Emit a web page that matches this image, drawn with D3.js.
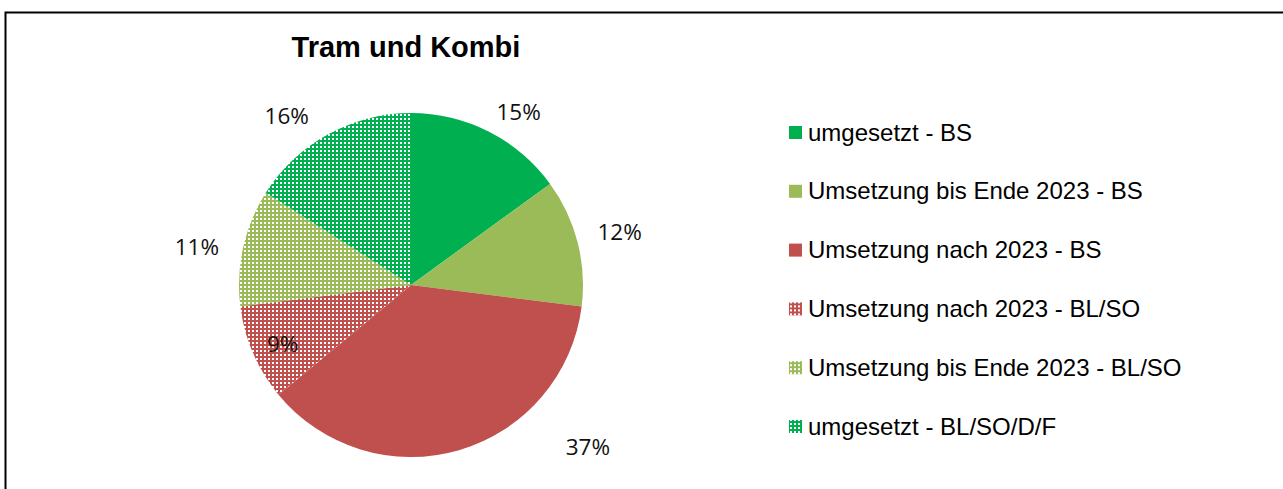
<!DOCTYPE html>
<html>
<head>
<meta charset="utf-8">
<script src="https://cdn.jsdelivr.net/npm/d3@7"></script>
<style>
  body { margin: 0; background: #fff; }
  svg { display: block; }
</style>
</head>
<body>
<svg id="chart" width="1283" height="489"></svg>
<script>
// slice data, clockwise from 12 o'clock
var categories = [
    "umgesetzt - BS",
    "Umsetzung bis Ende 2023 - BS",
    "Umsetzung nach 2023 - BS",
    "Umsetzung nach 2023 - BL/SO",
    "Umsetzung bis Ende 2023 - BL/SO",
    "umgesetzt - BL/SO/D/F"
];
var shares = [15, 12, 37, 9, 11, 16];
var percentLabels = ["15%", "12%", "37%", "9%", "11%", "16%"];

var baseColors = ["#00B050", "#9BBB59", "#C0504D", "#C0504D", "#9BBB59", "#00B050"];
var patterned = [false, false, false, true, true, true];
// hand placement of the data labels (excel "best fit"), offset from the default spot
var labelNudge = [[15, 9], [11, -2], [120, -34], [-10, 8], [-15, 6], [-26, 10]];

var width = 1283, height = 489;
var cx = 411, cy = 285, radius = 172;

var svg = d3.select("#chart");
var defs = svg.append("defs");

// small white dot grid for the BL/SO slices
baseColors.forEach(function (c, i) {
    if (!patterned[i]) return;
    var p = defs.append("pattern")
        .attr("id", "pat" + i)
        .attr("patternUnits", "userSpaceOnUse")
        .attr("width", 4).attr("height", 4);
    p.append("rect").attr("width", 4).attr("height", 4).attr("fill", c);
    p.append("rect").attr("x", 1).attr("y", 1).attr("width", 2).attr("height", 2).attr("fill", "#fff");
});

function fillFor(i) {
    return patterned[i] ? "url(#pat" + i + ")" : baseColors[i];
}

// frame (runs off the right and bottom of the picture)
svg.append("rect")
    .attr("x", 5.5).attr("y", 12.5)
    .attr("width", width).attr("height", height)
    .attr("fill", "none").attr("stroke", "#000").attr("stroke-width", 2);

svg.append("text")
    .attr("x", 406).attr("y", 57)
    .attr("text-anchor", "middle")
    .style("font-family", "'Liberation Sans', Arial, sans-serif")
    .style("font-weight", "bold")
    .style("font-size", "29px")
    .text("Tram und Kombi");

var pie = d3.pie().sort(null).value(function (d) { return d; });
var arcs = pie(shares);

var arc = d3.arc().innerRadius(0).outerRadius(radius);
var outerLabelArc = d3.arc().innerRadius(radius + 32).outerRadius(radius + 32);
var innerLabelArc = d3.arc().innerRadius(radius * 0.75).outerRadius(radius * 0.75);

var g = svg.append("g").attr("transform", "translate(" + cx + "," + cy + ")");

g.selectAll("path.slice")
    .data(arcs)
    .enter().append("path")
    .attr("class", "slice")
    .attr("d", arc)
    .attr("fill", function (d, i) { return fillFor(i); });

g.selectAll("text.lbl")
    .data(arcs)
    .enter().append("text")
    .attr("class", "lbl")
    .attr("transform", function (d, i) {
        var pos = (shares[i] < 10 ? innerLabelArc : outerLabelArc).centroid(d);
        return "translate(" + (pos[0] + labelNudge[i][0]) + "," + (pos[1] + labelNudge[i][1]) + ")";
    })
    .attr("text-anchor", "middle")
    .attr("dy", "0.36em")
    .style("font-family", "'Open Sans', 'Noto Sans', sans-serif")
    .style("font-size", "22.5px")
    .style("fill", "#111")
    .text(function (d, i) { return percentLabels[i]; });

// legend
var legend = svg.append("g").attr("transform", "translate(789,132)");
var rowStep = 58.8;
var rows = legend.selectAll("g.row")
    .data(categories)
    .enter().append("g")
    .attr("class", "row")
    .attr("transform", function (d, i) { return "translate(0," + (i * rowStep) + ")"; });

rows.append("rect")
    .attr("x", 0).attr("y", -6)
    .attr("width", 13).attr("height", 13)
    .attr("fill", function (d, i) { return fillFor(i); });

rows.append("text")
    .attr("x", 19).attr("y", 0)
    .attr("dy", "0.36em")
    .style("font-family", "'Liberation Sans', Arial, sans-serif")
    .style("font-size", "24px")
    .style("fill", "#000")
    .text(function (d) { return d; });
</script>
</body>
</html>
